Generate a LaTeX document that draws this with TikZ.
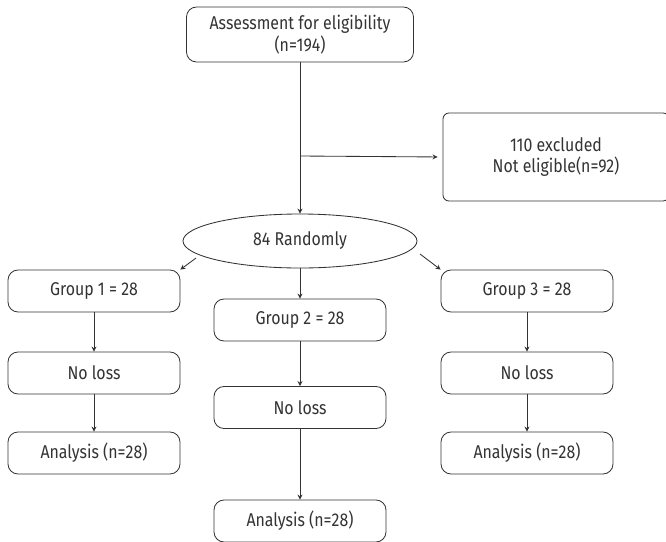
\documentclass[tikz,border=0pt]{standalone}
\usepackage{fontspec}
\setmainfont{Fira Sans}[FakeStretch=0.86]
\usetikzlibrary{shapes.geometric,arrows.meta,calc}
\definecolor{ink}{HTML}{333333}
\begin{document}
\begin{tikzpicture}[x=1pt,y=-1pt,
  lbl/.style={text=ink, align=center, font=\fontsize{18.5}{21.5}\selectfont},
  box/.style={lbl, draw=ink, line width=0.85pt, rounded corners=10pt, minimum width=172pt, minimum height=42pt, inner sep=0pt},
  oval/.style={lbl, draw=ink, line width=0.85pt, ellipse, minimum width=234pt, minimum height=54pt, inner sep=0pt},
  arr/.style={draw=ink, line width=0.85pt, -{Stealth[length=5pt,width=5pt]}}]
\useasboundingbox (0,0) rectangle (666,541);
\node[box, minimum width=227pt, minimum height=55pt] (top) at (300,34.5) {Assessment for eligibility\\(n=194)};
\node[box, minimum width=226pt, minimum height=88pt, rounded corners=6pt] (excl) at (556,157) {110 excluded\\Not eligible(n=92)};
\node[oval] (rand) at (300,241) {84 Randomly};
\node[box] (g1) at (94,291) {Group 1 = 28};
\node[box] (g2) at (300,320) {Group 2 = 28};
\node[box] (g3) at (527,291) {Group 3 = 28};
\node[box] (nl1) at (94,373) {No loss};
\node[box] (nl2) at (300,407.5) {No loss};
\node[box] (nl3) at (527,373) {No loss};
\node[box] (an1) at (94,453) {Analysis (n=28)};
\node[box] (an2) at (300,521) {Analysis (n=28)};
\node[box] (an3) at (527,453) {Analysis (n=28)};
\coordinate (br) at (300,156);
\coordinate (ls) at (196,258);
\coordinate (rs) at (420,254);
\draw[arr] (top.south) -- (rand.north);
\draw[arr, shorten >=5pt] (br) -- (excl.west);
\draw[arr] (ls) -- (g1.north east);
\draw[arr] (rs) -- (g3.north west);
\draw[arr] (rand.south) -- (g2.north);
\draw[arr] (g1.south) -- (nl1.north);
\draw[arr] (nl1.south) -- (an1.north);
\draw[arr] (g2.south) -- (nl2.north);
\draw[arr] (nl2.south) -- (an2.north);
\draw[arr] (g3.south) -- (nl3.north);
\draw[arr] (nl3.south) -- (an3.north);
\end{tikzpicture}
\end{document}
